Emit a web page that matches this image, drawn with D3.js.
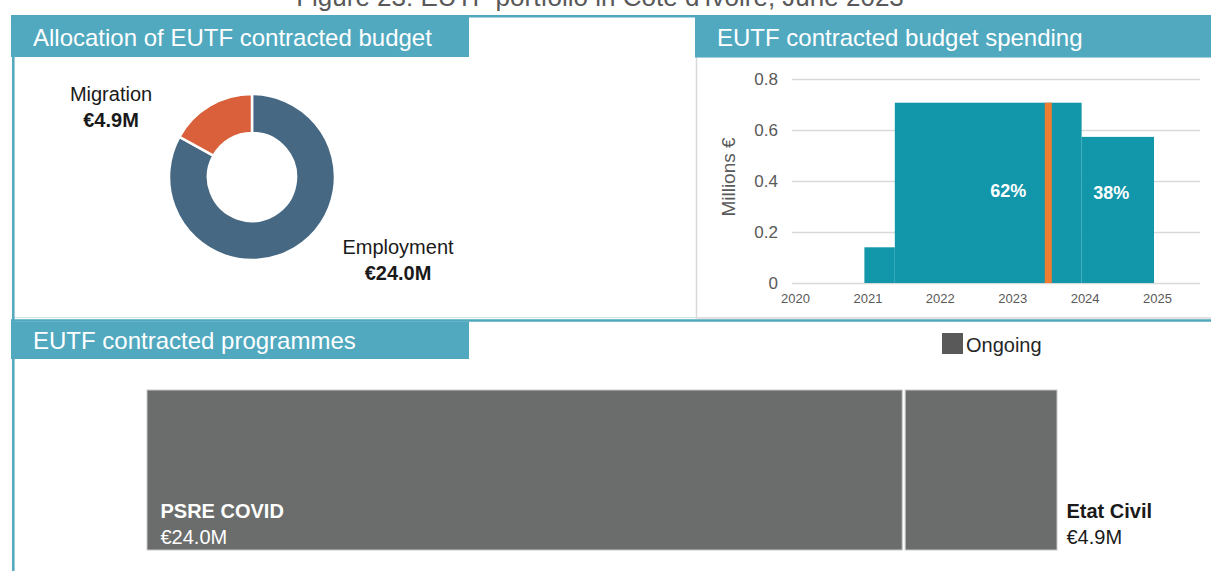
<!DOCTYPE html>
<html>
<head>
<meta charset="utf-8">
<script src="https://cdn.jsdelivr.net/npm/d3@7"></script>
<style>
    body { margin: 0; background: #fff; }
    svg { display: block; font-family: "Liberation Sans", Arial, sans-serif; }
</style>
</head>
<body>
<svg id="chart" width="1211" height="571"></svg>
<script>
// EUTF portfolio dashboard - Côte d'Ivoire

// Data
const sectorNames = ['Employment', 'Migration'];
const sectorBudgets = [24.0, 4.9];

const spendStart = [2021, 2021.42, 2024];
const spendEnd = [2021.42, 2024, 2025];
const spendValues = [0.14, 0.707, 0.573];
const todayYear = 2023.54;
const spendShares = ['62%', '38%'];
const yearTicks = [2020, 2021, 2022, 2023, 2024, 2025];
const millionTicks = [0, 0.2, 0.4, 0.6, 0.8];

const programmeNames = ['PSRE COVID', 'Etat Civil'];
const programmeBudgets = [24.0, 4.9];
const statusLegend = ['Ongoing'];

// Global Configuration
const config = {
    colors: {
        header: '#50A9BF',
        panelLine: '#4FA8BE',
        lightBorder: '#d9d9d9',
        employment: '#466883',
        migration: '#D9603A',
        spend: '#1196AA',
        today: '#EE7D31',
        programme: '#6A6D6C',
        legend: '#595959',
        grid: '#d9d9d9',
        axisText: '#595959',
        text: '#1a1a1a'
    }
};

const svg = d3.select('#chart');

const fmtM = v => '€' + v.toFixed(1) + 'M';

// Frames and headers
function drawFrames() {
    // figure title, cut by the top edge as in the source
    svg.append('text')
        .attr('x', 600)
        .attr('y', 6)
        .attr('text-anchor', 'middle')
        .style('font-size', '26px')
        .style('fill', '#595959')
        .text('Figure 23: EUTF  portfolio in Côte d\'Ivoire, June 2023');

    // right panel box
    svg.append('rect')
        .attr('x', 696.5).attr('y', 56.5)
        .attr('width', 520).attr('height', 261.5)
        .attr('fill', 'none')
        .attr('stroke', config.colors.lightBorder)
        .attr('stroke-width', 1.5);

    // horizontal teal lines
    svg.append('line')
        .attr('x1', 11).attr('x2', 1211).attr('y1', 16.3).attr('y2', 16.3)
        .attr('stroke', config.colors.panelLine).attr('stroke-width', 2.5);
    svg.append('line')
        .attr('x1', 13).attr('x2', 696).attr('y1', 317.5).attr('y2', 317.5)
        .attr('stroke', '#cfe6ec').attr('stroke-width', 1);
    svg.append('line')
        .attr('x1', 11).attr('x2', 1211).attr('y1', 320.5).attr('y2', 320.5)
        .attr('stroke', config.colors.panelLine).attr('stroke-width', 2.5);

    // left vertical line
    svg.append('line')
        .attr('x1', 13.3).attr('x2', 13.3).attr('y1', 16).attr('y2', 571)
        .attr('stroke', config.colors.panelLine).attr('stroke-width', 2.5);

    const headers = [
        { x: 11, y: 17, w: 458, h: 40, label: 'Allocation of EUTF contracted budget' },
        { x: 695, y: 17, w: 516, h: 40.5, label: 'EUTF contracted budget spending' },
        { x: 11, y: 321.5, w: 458, h: 37.5, label: 'EUTF contracted programmes' }
    ];
    const hg = svg.selectAll('.header')
        .data(headers)
        .join('g')
        .attr('class', 'header');
    hg.append('rect')
        .attr('x', d => d.x).attr('y', d => d.y)
        .attr('width', d => d.w).attr('height', d => d.h)
        .attr('fill', config.colors.header);
    hg.append('text')
        .attr('x', d => d.x + 22)
        .attr('y', d => d.y + d.h / 2 + 8.5)
        .style('font-size', '24px')
        .style('fill', '#fff')
        .text(d => d.label);
}

// Donut: allocation by sector
function drawDonut() {
    const sectors = sectorNames.map((n, i) => ({ name: n, value: sectorBudgets[i] }));
    const cx = 252, cy = 177;
    const pie = d3.pie().sort(null).value(d => d.value);
    const arc = d3.arc().innerRadius(44).outerRadius(83);
    const color = d3.scaleOrdinal().domain(sectorNames)
        .range([config.colors.employment, config.colors.migration]);

    const g = svg.append('g').attr('transform', `translate(${cx},${cy})`);
    g.selectAll('path')
        .data(pie(sectors))
        .join('path')
        .attr('d', arc)
        .attr('fill', d => color(d.data.name))
        .attr('stroke', '#fff')
        .attr('stroke-width', 2.5);

    // labels sit beside the donut, on the side of each slice
    const labelPos = { Employment: [146, 77], Migration: [-141, -76] };
    const labels = g.selectAll('.slice-label')
        .data(pie(sectors))
        .join('g')
        .attr('class', 'slice-label')
        .attr('transform', d => `translate(${labelPos[d.data.name][0]},${labelPos[d.data.name][1]})`);
    labels.append('text')
        .attr('text-anchor', 'middle')
        .style('font-size', '20px')
        .style('fill', config.colors.text)
        .text(d => d.data.name);
    labels.append('text')
        .attr('y', 26)
        .attr('text-anchor', 'middle')
        .style('font-size', '20px')
        .style('font-weight', 'bold')
        .style('fill', config.colors.text)
        .text(d => fmtM(d.data.value));
}

// Step chart: contracted budget spending
function drawSpending() {
    const x = d3.scaleLinear().domain([2020, 2025]).range([792, 1154]);
    const y = d3.scaleLinear().domain([0, 0.8]).range([283, 79]);
    const gridRight = 1200;

    const yAxis = svg.append('g')
        .attr('transform', `translate(${x(2020)},0)`)
        .call(d3.axisLeft(y)
            .tickValues(millionTicks)
            .tickSize(-(gridRight - x(2020)))
            .tickPadding(14)
            .tickFormat(d => d === 0 ? '0' : d3.format('.1f')(d)));
    yAxis.select('.domain').remove();
    yAxis.selectAll('line').attr('stroke', config.colors.grid).attr('stroke-width', 1.5);
    yAxis.selectAll('text')
        .style('font-size', '17px')
        .style('font-family', '"Liberation Sans", Arial, sans-serif')
        .style('fill', config.colors.axisText);

    const xAxis = svg.append('g')
        .attr('transform', `translate(0,${y(0)})`)
        .call(d3.axisBottom(x)
            .tickValues(yearTicks)
            .tickSize(0)
            .tickPadding(11)
            .tickFormat(d3.format('d')));
    xAxis.select('.domain').remove();
    xAxis.selectAll('text')
        .attr('dx', 3)
        .style('font-size', '13px')
        .style('font-family', '"Liberation Sans", Arial, sans-serif')
        .style('fill', config.colors.axisText);

    const steps = spendValues.map((v, i) => ({ x0: spendStart[i], x1: spendEnd[i], v }));
    svg.selectAll('.step')
        .data(steps)
        .join('rect')
        .attr('class', 'step')
        .attr('x', d => x(d.x0))
        .attr('y', d => y(d.v))
        .attr('width', d => x(d.x1) - x(d.x0))
        .attr('height', d => y(0) - y(d.v))
        .attr('fill', config.colors.spend);

    // today marker
    const todayStep = steps.find(d => d.x0 <= todayYear && d.x1 > todayYear);
    svg.append('rect')
        .attr('x', x(todayYear) - 3.5)
        .attr('y', y(todayStep.v))
        .attr('width', 7)
        .attr('height', y(0) - y(todayStep.v))
        .attr('fill', config.colors.today);

    // spent / remaining shares
    const shareX = [x(todayYear) - 40, x(todayYear) + 63];
    svg.selectAll('.share')
        .data(spendShares)
        .join('text')
        .attr('class', 'share')
        .attr('x', (d, i) => shareX[i])
        .attr('y', (d, i) => 197 + i * 2)
        .attr('text-anchor', 'middle')
        .style('font-size', '18px')
        .style('font-weight', 'bold')
        .style('fill', '#fff')
        .text(d => d);

    svg.append('text')
        .attr('transform', `translate(735,${(y(0) + y(0.8)) / 2 - 4}) rotate(-90)`)
        .attr('text-anchor', 'middle')
        .style('font-size', '19px')
        .style('fill', config.colors.axisText)
        .text('Millions €');
}

// Programmes: proportional blocks
function drawProgrammes() {
    const total = d3.sum(programmeBudgets);
    const x = d3.scaleLinear().domain([0, total]).range([145.5, 1058.5]);
    const top = 390, bottom = 550;

    let cum = 0;
    const blocks = programmeNames.map((n, i) => {
        const b = { name: n, value: programmeBudgets[i], x0: x(cum), x1: x(cum + programmeBudgets[i]) };
        cum += programmeBudgets[i];
        return b;
    });

    svg.selectAll('.programme')
        .data(blocks)
        .join('rect')
        .attr('class', 'programme')
        .attr('x', d => d.x0 + 1.5)
        .attr('y', top)
        .attr('width', d => d.x1 - d.x0 - 3)
        .attr('height', bottom - top)
        .attr('fill', config.colors.programme)
        .attr('stroke', '#c8c8c8')
        .attr('stroke-width', 1);

    // wide blocks get their label inside, narrow ones to the right
    const labels = svg.selectAll('.programme-label')
        .data(blocks)
        .join('g')
        .attr('class', 'programme-label')
        .attr('transform', d => {
            const inside = d.x1 - d.x0 > 300;
            return `translate(${inside ? d.x0 + 15 : d.x1 + 8},518)`;
        });
    labels.append('text')
        .style('font-size', '20px')
        .style('font-weight', 'bold')
        .style('fill', d => d.x1 - d.x0 > 300 ? '#fff' : config.colors.text)
        .text(d => d.name);
    labels.append('text')
        .attr('y', 26)
        .style('font-size', '20px')
        .style('fill', d => d.x1 - d.x0 > 300 ? '#fff' : config.colors.text)
        .text(d => fmtM(d.value));

    // legend
    const legend = svg.selectAll('.legend-item')
        .data(statusLegend)
        .join('g')
        .attr('class', 'legend-item')
        .attr('transform', (d, i) => `translate(${942 + i * 120},333)`);
    legend.append('rect')
        .attr('width', 21)
        .attr('height', 21)
        .attr('fill', config.colors.legend);
    legend.append('text')
        .attr('x', 24)
        .attr('y', 18.5)
        .style('font-size', '20px')
        .style('fill', '#262626')
        .text(d => d);
}

drawFrames();
drawDonut();
drawSpending();
drawProgrammes();
</script>
</body>
</html>
